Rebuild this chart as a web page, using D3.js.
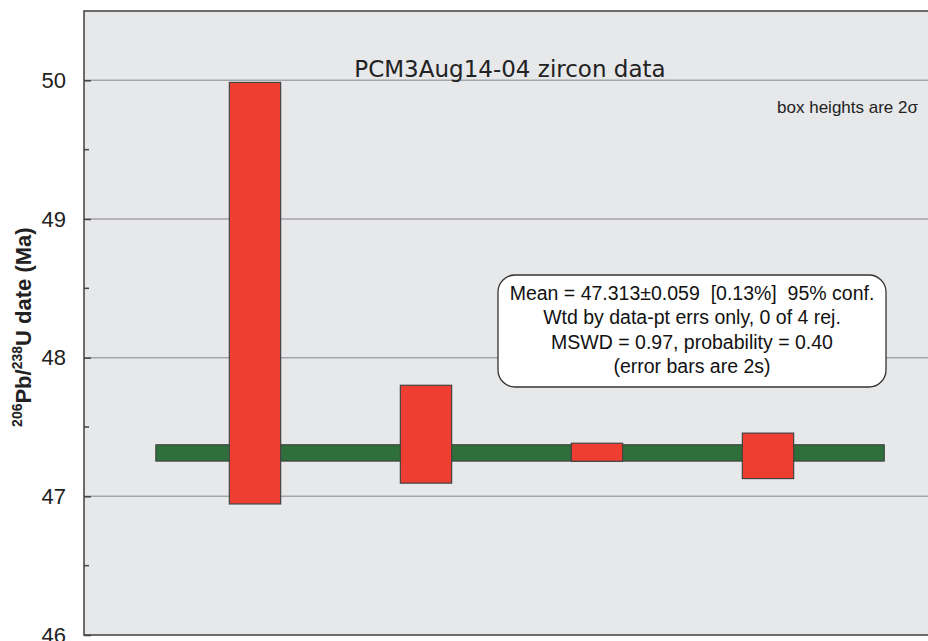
<!DOCTYPE html>
<html lang="en">
<head>
    <meta charset="UTF-8">
    <title>PCM3Aug14-04 zircon data</title>
    <script src="https://d3js.org/d3.v7.min.js"></script>
    <style>
        body {
            margin: 0;
            background: #fff;
        }
        .tick-label {
            font-family: 'Liberation Sans', Arial, sans-serif;
            font-size: 22px;
            fill: #222;
        }
        .box-text {
            font-family: 'Liberation Sans', Arial, sans-serif;
            font-size: 19.5px;
            fill: #111;
            white-space: pre;
        }
    </style>
</head>
<body>
    <svg id="chart" width="928" height="641"></svg>

    <script>
        // grain dates (Ma), box heights are 2 sigma
        const grains = [1, 2, 3, 4];
        const dateMid = [48.465, 47.448, 47.318, 47.292];
        const err2s = [1.520, 0.353, 0.065, 0.164];

        // weighted mean band
        const meanDate = 47.313;
        const meanErr = 0.059;
        const bandFrom = 0.42, bandTo = 4.68;

        const yTicks = [46, 47, 48, 49, 50];
        const yMinor = [46.5, 47.5, 48.5, 49.5];

        const boxLines = [
            "Mean = 47.313\u00b10.059  [0.13%]  95% conf.",
            "Wtd by data-pt errs only, 0 of 4 rej.",
            "MSWD = 0.97, probability = 0.40",
            "(error bars are 2s)"
        ];

        const svg = d3.select("#chart");
        const pLeft = 84, pTop = 11, pBottom = 635, pRight = 939;

        const x = d3.scaleLinear().domain([0, 5]).range([pLeft, pRight]);
        const y = d3.scaleLinear().domain([46, 50.5]).range([pBottom, pTop]);
        const halfW = 0.15;

        // plot background
        svg.append("rect")
            .attr("x", pLeft).attr("y", pTop)
            .attr("width", pRight - pLeft).attr("height", pBottom - pTop)
            .attr("fill", "#e7e8ea");

        // gridlines
        svg.selectAll(".grid")
            .data(yTicks.filter(d => d > 46))
            .enter().append("line")
            .attr("x1", pLeft).attr("x2", pRight)
            .attr("y1", d => y(d)).attr("y2", d => y(d))
            .attr("stroke", "#a4a5a8")
            .attr("stroke-width", 1.5);

        // mean band
        svg.append("rect")
            .attr("x", x(bandFrom))
            .attr("y", y(meanDate + meanErr))
            .attr("width", x(bandTo) - x(bandFrom))
            .attr("height", y(meanDate - meanErr) - y(meanDate + meanErr))
            .attr("fill", "#2f6f3b")
            .attr("stroke", "#3a3a3a")
            .attr("stroke-width", 1);

        // grain boxes
        svg.selectAll(".box")
            .data(grains)
            .enter().append("rect")
            .attr("x", d => x(d - halfW))
            .attr("y", (d, i) => y(dateMid[i] + err2s[i]))
            .attr("width", x(1 + halfW) - x(1 - halfW))
            .attr("height", (d, i) => y(dateMid[i] - err2s[i]) - y(dateMid[i] + err2s[i]))
            .attr("fill", "#ee3e31")
            .attr("stroke", "#444")
            .attr("stroke-width", 1.2);

        // frame
        svg.append("rect")
            .attr("x", pLeft).attr("y", pTop)
            .attr("width", pRight - pLeft).attr("height", pBottom - pTop)
            .attr("fill", "none")
            .attr("stroke", "#4a4a4a")
            .attr("stroke-width", 1.6);

        // left axis, ticks pointing inward
        const yAxis = d3.axisLeft(y).tickValues(yTicks).tickSize(-7).tickPadding(18).tickFormat(d3.format("d"));
        const ag = svg.append("g").attr("transform", `translate(${pLeft},0)`).call(yAxis);
        ag.select(".domain").remove();
        ag.selectAll(".tick line").attr("stroke", "#444").attr("stroke-width", 1.5);
        ag.selectAll(".tick text").attr("class", "tick-label");
        ag.attr("font-size", null).attr("font-family", null);

        svg.selectAll(".minor")
            .data(yMinor)
            .enter().append("line")
            .attr("x1", pLeft).attr("x2", pLeft + 5)
            .attr("y1", d => y(d)).attr("y2", d => y(d))
            .attr("stroke", "#444").attr("stroke-width", 1.5);

        // axis title
        const yt = svg.append("text")
            .attr("transform", `translate(31,${y(48.22)}) rotate(-90)`)
            .attr("text-anchor", "middle")
            .attr("font-family", "'Liberation Sans', Arial, sans-serif")
            .attr("font-weight", "bold")
            .attr("font-size", 22)
            .attr("fill", "#222");
        yt.append("tspan").attr("font-size", 14).attr("dy", -9).text("206");
        yt.append("tspan").attr("dy", 9).text("Pb/");
        yt.append("tspan").attr("font-size", 14).attr("dy", -9).text("238");
        yt.append("tspan").attr("dy", 9).text("U date (Ma)");

        // title
        svg.append("text")
            .attr("x", 510).attr("y", 77)
            .attr("text-anchor", "middle")
            .attr("font-family", "'DejaVu Sans', Verdana, sans-serif")
            .attr("font-size", 23)
            .attr("fill", "#222")
            .text("PCM3Aug14-04 zircon data");

        svg.append("text")
            .attr("x", 918).attr("y", 113)
            .attr("text-anchor", "end")
            .attr("font-family", "'Liberation Sans', Arial, sans-serif")
            .attr("font-size", 17)
            .attr("fill", "#222")
            .text("box heights are 2\u03c3");

        // result box
        const bx = 498, by = 275, bw = 388, bh = 112;
        svg.append("rect")
            .attr("x", bx).attr("y", by)
            .attr("width", bw).attr("height", bh)
            .attr("rx", 17).attr("ry", 17)
            .attr("fill", "#fff")
            .attr("stroke", "#333")
            .attr("stroke-width", 1.3);

        svg.selectAll(".box-line")
            .data(boxLines)
            .enter().append("text")
            .attr("class", "box-text")
            .attr("x", bx + bw / 2)
            .attr("y", (d, i) => by + 25 + i * 24.3)
            .attr("text-anchor", "middle")
            .text(d => d);
    </script>
</body>
</html>
